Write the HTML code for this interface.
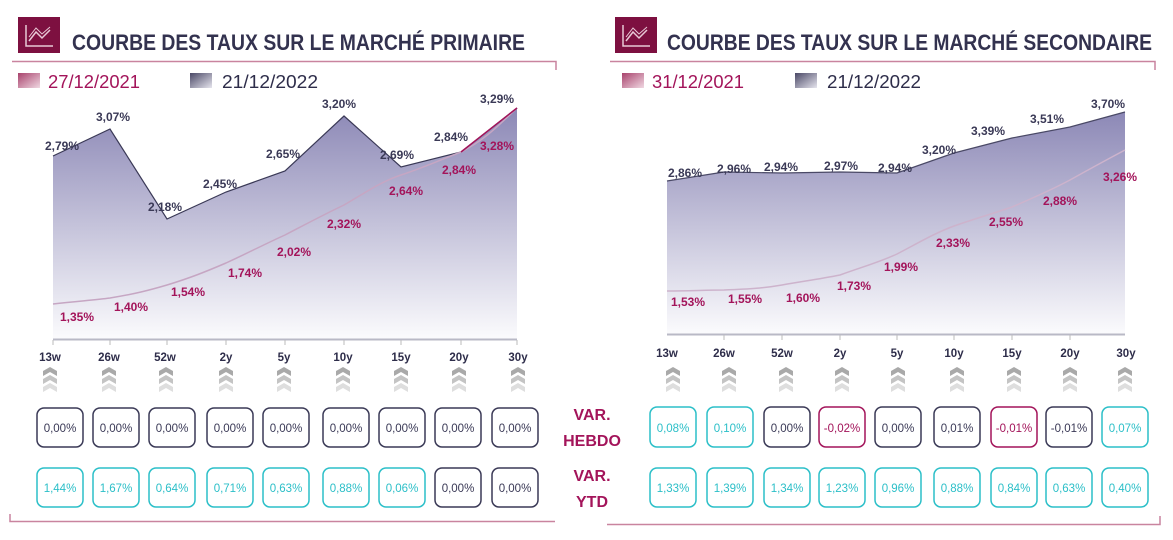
<!DOCTYPE html>
<html><head><meta charset="utf-8"><style>
html,body{margin:0;padding:0;background:#fff;}
svg{display:block;font-family:"Liberation Sans",sans-serif;}
.d{fill:#3a3956;font-weight:bold;font-size:12px;text-anchor:middle;}
.p{fill:#a3145a;font-weight:bold;font-size:12px;text-anchor:middle;}
.t{fill:#2e2d4a;font-size:11.5px;text-anchor:middle;font-weight:bold;}
.b{font-size:11.5px;text-anchor:middle;}
</style></head><body>
<svg width="1173" height="540" viewBox="0 0 1173 540">
<defs>
<linearGradient id="gd" x1="0" y1="0" x2="0" y2="1"><stop offset="0" stop-color="#8c88b6"/><stop offset="1" stop-color="#fbfbfd"/></linearGradient>
<linearGradient id="gp" x1="0" y1="0" x2="0" y2="1"><stop offset="0" stop-color="#d8d2e2" stop-opacity="0.3"/><stop offset="1" stop-color="#fff" stop-opacity="0.5"/></linearGradient>
<linearGradient id="sp" x1="0" y1="0" x2="1" y2="1"><stop offset="0" stop-color="#a8426c"/><stop offset="1" stop-color="#f0d8e2"/></linearGradient>
<linearGradient id="sd" x1="0" y1="0" x2="1" y2="1"><stop offset="0" stop-color="#4a4866"/><stop offset="1" stop-color="#e6e5ee"/></linearGradient>
<g id="chev"><path d="M-7 3 L0 -1 L7 3 L7 8 L0 4 L-7 8Z" fill="#a9a9a9"/><path d="M-7 11 L0 7 L7 11 L7 16 L0 12 L-7 16Z" fill="#c4c4c4"/><path d="M-7 19 L0 15 L7 19 L7 24 L0 20 L-7 24Z" fill="#dedede"/></g>
<g id="icon"><rect x="0" y="0" width="42" height="36" fill="#7d1040"/><path d="M8 8 V29 H35" stroke="#e8c9d6" stroke-width="1.5" fill="none"/><path d="M11 24 L18 15 L24 21 L32 13" stroke="#e8c9d6" stroke-width="1.5" fill="none"/><path d="M11 20 L18 11 L24 17 L32 10" stroke="#e8c9d6" stroke-width="1" fill="none"/></g>
</defs>

<!-- LEFT HEADER -->
<use href="#icon" x="18" y="17"/>
<text x="72" y="50" font-size="22" font-weight="bold" fill="#33324f" textLength="453" lengthAdjust="spacingAndGlyphs">COURBE DES TAUX SUR LE MARCHÉ PRIMAIRE</text>
<path d="M12 61.5 H556 V70" stroke="#c9849f" stroke-width="1.5" fill="none"/>
<rect x="18" y="73" width="22" height="15" fill="url(#sp)"/>
<text x="48" y="88" font-size="18" fill="#a3145a" textLength="92" lengthAdjust="spacingAndGlyphs">27/12/2021</text>
<rect x="190" y="73" width="22" height="15" fill="url(#sd)"/>
<text x="222" y="88" font-size="18" fill="#2e2d4a" textLength="96" lengthAdjust="spacingAndGlyphs">21/12/2022</text>

<!-- LEFT CHART -->
<path d="M53 156 L110 129 L167 219 L226 192 L285 171 L344 116 L401 167 L461 152 L517 108 L517 339 L53 339Z" fill="url(#gd)"/>
<path d="M53 156 L110 129 L167 219 L226 192 L285 171 L344 116 L401 167 L461 152 L517 108" stroke="#3a3956" stroke-width="1.2" fill="none"/>
<path d="M53 304 C80 301 95 300 110 298 C135 294 150 290 167 285 C190 278 205 272 226 263 C250 252 265 244 285 235 C310 222 325 214 344 205 C365 193 380 182 401 175 C425 167 440 160 461 152 C485 140 500 124 517 108" stroke="#c6a6c3" stroke-width="1.5" fill="none"/>
<path d="M461 152 L517 108" stroke="#a3145a" stroke-width="1.5"/>
<line x1="53" y1="339.5" x2="517" y2="339.5" stroke="#b9b9c6" stroke-width="2"/>
<g stroke="#bbb"><line x1="53" y1="340" x2="53" y2="345"/><line x1="110" y1="340" x2="110" y2="345"/><line x1="167" y1="340" x2="167" y2="345"/><line x1="226" y1="340" x2="226" y2="345"/><line x1="285" y1="340" x2="285" y2="345"/><line x1="344" y1="340" x2="344" y2="345"/><line x1="401" y1="340" x2="401" y2="345"/><line x1="461" y1="340" x2="461" y2="345"/><line x1="517" y1="340" x2="517" y2="345"/></g>
<text class="d" x="62" y="150">2,79%</text><text class="d" x="113" y="121">3,07%</text><text class="d" x="165" y="211">2,18%</text><text class="d" x="220" y="188">2,45%</text><text class="d" x="283" y="158">2,65%</text><text class="d" x="339" y="108">3,20%</text><text class="d" x="397" y="159">2,69%</text><text class="d" x="451" y="141">2,84%</text><text class="d" x="497" y="103">3,29%</text>
<text class="p" x="77" y="321">1,35%</text><text class="p" x="131" y="311">1,40%</text><text class="p" x="188" y="296">1,54%</text><text class="p" x="245" y="277">1,74%</text><text class="p" x="294" y="256">2,02%</text><text class="p" x="344" y="228">2,32%</text><text class="p" x="406" y="195">2,64%</text><text class="p" x="459" y="174">2,84%</text><text class="p" x="497" y="150">3,28%</text>
<g class="t"><text x="50" y="361">13w</text><text x="109" y="361">26w</text><text x="165" y="361">52w</text><text x="226" y="361">2y</text><text x="284" y="361">5y</text><text x="343" y="361">10y</text><text x="401" y="361">15y</text><text x="459" y="361">20y</text><text x="518" y="361">30y</text></g>
<use href="#chev" x="50" y="368"/><use href="#chev" x="109" y="368"/><use href="#chev" x="166" y="368"/><use href="#chev" x="226" y="368"/><use href="#chev" x="284" y="368"/><use href="#chev" x="343" y="368"/><use href="#chev" x="401" y="368"/><use href="#chev" x="459" y="368"/><use href="#chev" x="518" y="368"/>

<g fill="#fff" stroke-width="1.5">
<g stroke="#3a3956">
<rect x="37" y="408" width="46" height="39" rx="7"/><rect x="93" y="408" width="46" height="39" rx="7"/><rect x="149" y="408" width="46" height="39" rx="7"/><rect x="207" y="408" width="46" height="39" rx="7"/><rect x="263" y="408" width="46" height="39" rx="7"/><rect x="323" y="408" width="46" height="39" rx="7"/><rect x="379" y="408" width="46" height="39" rx="7"/><rect x="435" y="408" width="46" height="39" rx="7"/><rect x="492" y="408" width="46" height="39" rx="7"/>
<rect x="435" y="468" width="46" height="39" rx="7"/><rect x="492" y="468" width="46" height="39" rx="7"/>
</g>
<g stroke="#2bbfc8">
<rect x="37" y="468" width="46" height="39" rx="7"/><rect x="93" y="468" width="46" height="39" rx="7"/><rect x="149" y="468" width="46" height="39" rx="7"/><rect x="207" y="468" width="46" height="39" rx="7"/><rect x="263" y="468" width="46" height="39" rx="7"/><rect x="323" y="468" width="46" height="39" rx="7"/><rect x="379" y="468" width="46" height="39" rx="7"/>
</g></g>
<g class="b" fill="#3a3956"><text x="60" y="432">0,00%</text><text x="116" y="432">0,00%</text><text x="172" y="432">0,00%</text><text x="230" y="432">0,00%</text><text x="286" y="432">0,00%</text><text x="346" y="432">0,00%</text><text x="402" y="432">0,00%</text><text x="458" y="432">0,00%</text><text x="515" y="432">0,00%</text><text x="458" y="492">0,00%</text><text x="515" y="492">0,00%</text></g>
<g class="b" fill="#2bbfc8"><text x="60" y="492">1,44%</text><text x="116" y="492">1,67%</text><text x="172" y="492">0,64%</text><text x="230" y="492">0,71%</text><text x="286" y="492">0,63%</text><text x="346" y="492">0,88%</text><text x="402" y="492">0,06%</text></g>
<path d="M10 514 V521.5 H555" stroke="#c9849f" stroke-width="1.5" fill="none"/>

<g fill="#a3145a" font-weight="bold" font-size="16" text-anchor="middle"><text x="592" y="420">VAR.</text><text x="592" y="446">HEBDO</text><text x="592" y="481">VAR.</text><text x="592" y="507">YTD</text></g>

<!-- RIGHT HEADER -->
<use href="#icon" x="615" y="17"/>
<text x="667" y="50" font-size="22" font-weight="bold" fill="#33324f" textLength="485" lengthAdjust="spacingAndGlyphs">COURBE DES TAUX SUR LE MARCHÉ SECONDAIRE</text>
<path d="M610 61.5 H1155 V70" stroke="#c9849f" stroke-width="1.5" fill="none"/>
<rect x="622" y="73" width="22" height="15" fill="url(#sp)"/>
<text x="652" y="88" font-size="18" fill="#a3145a" textLength="92" lengthAdjust="spacingAndGlyphs">31/12/2021</text>
<rect x="795" y="73" width="22" height="15" fill="url(#sd)"/>
<text x="827" y="88" font-size="18" fill="#2e2d4a" textLength="94" lengthAdjust="spacingAndGlyphs">21/12/2022</text>

<!-- RIGHT CHART -->
<path d="M667 181 L724 172 L782 173 L840 172 L897 173 L954 153 L1012 138 L1070 127 L1125 112 L1125 334 L667 334Z" fill="url(#gd)"/>
<path d="M667 181 L724 172 L782 173 L840 172 L897 173 L954 153 L1012 138 L1070 127 L1125 112" stroke="#4a4966" stroke-width="1.2" fill="none"/>
<path d="M667 291 C690 291 705 290 724 290 C750 289 765 288 782 285 C805 281 820 279 840 275 C865 266 880 262 897 254 C920 242 935 233 954 226 C980 217 995 213 1012 207 C1040 195 1055 188 1070 180 C1095 166 1110 158 1125 150" stroke="#cdb3cc" stroke-width="1.5" fill="none"/>
<line x1="667" y1="334.5" x2="1125" y2="334.5" stroke="#b9b9c6" stroke-width="2"/>
<g stroke="#bbb"><line x1="724" y1="335" x2="724" y2="340"/><line x1="782" y1="335" x2="782" y2="340"/><line x1="840" y1="335" x2="840" y2="340"/><line x1="897" y1="335" x2="897" y2="340"/><line x1="954" y1="335" x2="954" y2="340"/><line x1="1012" y1="335" x2="1012" y2="340"/><line x1="1070" y1="335" x2="1070" y2="340"/></g>
<text class="d" x="685" y="177">2,86%</text><text class="d" x="734" y="173">2,96%</text><text class="d" x="781" y="171">2,94%</text><text class="d" x="841" y="170">2,97%</text><text class="d" x="895" y="172">2,94%</text><text class="d" x="939" y="154">3,20%</text><text class="d" x="988" y="135">3,39%</text><text class="d" x="1047" y="123">3,51%</text><text class="d" x="1108" y="108">3,70%</text>
<text class="p" x="688" y="306">1,53%</text><text class="p" x="745" y="303">1,55%</text><text class="p" x="803" y="302">1,60%</text><text class="p" x="854" y="290">1,73%</text><text class="p" x="901" y="271">1,99%</text><text class="p" x="953" y="247">2,33%</text><text class="p" x="1006" y="226">2,55%</text><text class="p" x="1060" y="205">2,88%</text><text class="p" x="1120" y="181">3,26%</text>
<g class="t"><text x="667" y="357">13w</text><text x="724" y="357">26w</text><text x="782" y="357">52w</text><text x="840" y="357">2y</text><text x="897" y="357">5y</text><text x="954" y="357">10y</text><text x="1012" y="357">15y</text><text x="1070" y="357">20y</text><text x="1126" y="357">30y</text></g>
<use href="#chev" x="673" y="368"/><use href="#chev" x="729" y="368"/><use href="#chev" x="786" y="368"/><use href="#chev" x="842" y="368"/><use href="#chev" x="898" y="368"/><use href="#chev" x="957" y="368"/><use href="#chev" x="1014" y="368"/><use href="#chev" x="1070" y="368"/><use href="#chev" x="1125" y="368"/>

<g fill="#fff" stroke-width="1.5">
<g stroke="#2bbfc8"><rect x="650" y="407" width="46" height="40" rx="7"/><rect x="707" y="407" width="46" height="40" rx="7"/><rect x="1102" y="407" width="46" height="40" rx="7"/>
<rect x="650" y="468" width="46" height="39" rx="7"/><rect x="707" y="468" width="46" height="39" rx="7"/><rect x="764" y="468" width="46" height="39" rx="7"/><rect x="819" y="468" width="46" height="39" rx="7"/><rect x="875" y="468" width="46" height="39" rx="7"/><rect x="934" y="468" width="46" height="39" rx="7"/><rect x="991" y="468" width="46" height="39" rx="7"/><rect x="1046" y="468" width="46" height="39" rx="7"/><rect x="1102" y="468" width="46" height="39" rx="7"/></g>
<g stroke="#3a3956"><rect x="764" y="407" width="46" height="40" rx="7"/><rect x="875" y="407" width="46" height="40" rx="7"/><rect x="934" y="407" width="46" height="40" rx="7"/><rect x="1046" y="407" width="46" height="40" rx="7"/></g>
<g stroke="#a3145a"><rect x="819" y="407" width="46" height="40" rx="7"/><rect x="991" y="407" width="46" height="40" rx="7"/></g>
</g>
<g class="b" fill="#2bbfc8"><text x="673" y="432">0,08%</text><text x="730" y="432">0,10%</text><text x="1125" y="432">0,07%</text>
<text x="673" y="492">1,33%</text><text x="730" y="492">1,39%</text><text x="787" y="492">1,34%</text><text x="842" y="492">1,23%</text><text x="898" y="492">0,96%</text><text x="957" y="492">0,88%</text><text x="1014" y="492">0,84%</text><text x="1069" y="492">0,63%</text><text x="1125" y="492">0,40%</text></g>
<g class="b" fill="#3a3956"><text x="787" y="432">0,00%</text><text x="898" y="432">0,00%</text><text x="957" y="432">0,01%</text><text x="1069" y="432">-0,01%</text></g>
<g class="b" fill="#a3145a"><text x="842" y="432">-0,02%</text><text x="1014" y="432">-0,01%</text></g>
<path d="M607 524.5 H1160 V516" stroke="#c9849f" stroke-width="1.5" fill="none"/>
</svg>
</body></html>
